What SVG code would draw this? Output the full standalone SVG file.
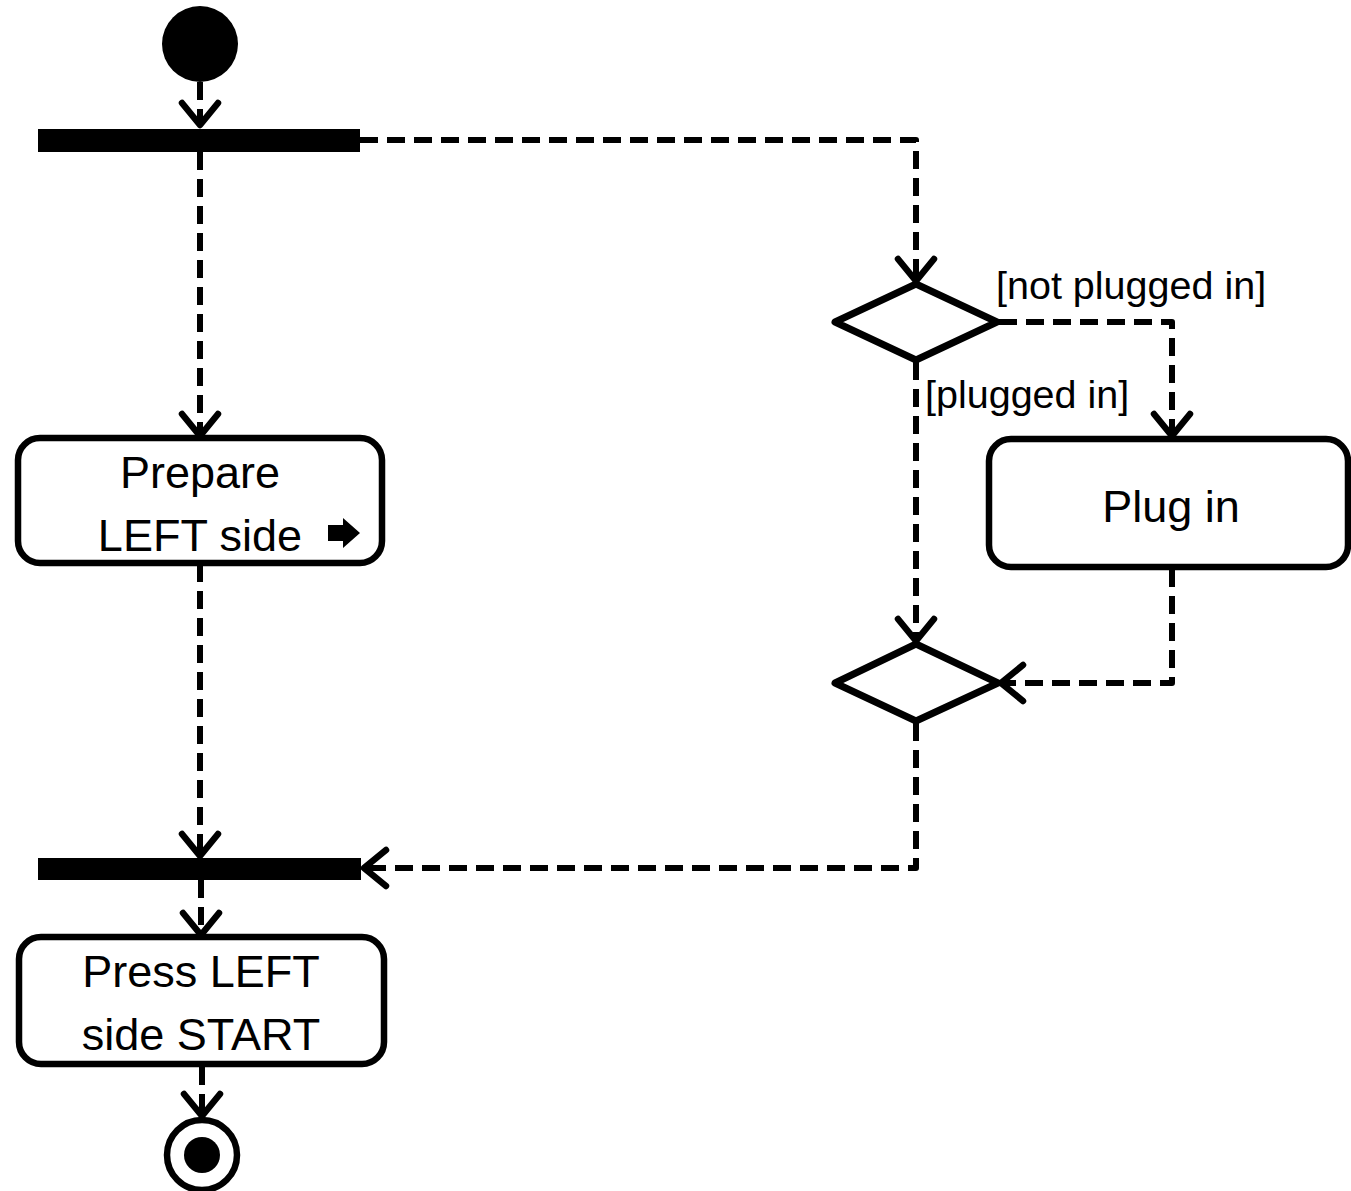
<svg xmlns="http://www.w3.org/2000/svg" width="1351" height="1191" viewBox="0 0 1351 1191">
  <style>
    .box { fill: #fff; stroke: #000; stroke-width: 6.5; }
    .dia { fill: #fff; stroke: #000; stroke-width: 7; stroke-linejoin: round; }
    .flow { fill: none; stroke: #000; stroke-width: 6; stroke-dasharray: 18 9; stroke-linejoin: round; }
    .lbl { font-family: "Liberation Sans", Arial, sans-serif; font-size: 45px; fill: #000; text-anchor: middle; }
    .guard { font-family: "Liberation Sans", Arial, sans-serif; font-size: 39.5px; fill: #000; }
  </style>
  <defs>
    <marker id="open" markerUnits="userSpaceOnUse" viewBox="-26 -22 30 44" markerWidth="30" markerHeight="44" refX="0" refY="0" orient="auto" overflow="visible">
      <path d="M-22,-18 L0,0 L-22,18" fill="none" stroke="#000" stroke-width="6.5" stroke-linecap="round" stroke-linejoin="round"/>
    </marker>
  </defs>

  <rect width="1351" height="1191" fill="#fff"/>

  <g id="connectors">
    <path class="flow" d="M200,82 V125" marker-end="url(#open)"/>
    <path class="flow" d="M200,152 V436" marker-end="url(#open)"/>
    <path class="flow" d="M200,564 V856" marker-end="url(#open)"/>
    <path class="flow" d="M201,880 V935" marker-end="url(#open)"/>
    <path class="flow" d="M202,1067 V1116" marker-end="url(#open)"/>
    <path class="flow" d="M360,140 H916 V281" marker-end="url(#open)"/>
    <path class="flow" d="M999,322 H1172 V436" marker-end="url(#open)"/>
    <path class="flow" d="M916,362 V641" marker-end="url(#open)"/>
    <path class="flow" d="M1172,569 V683 H1001" marker-end="url(#open)"/>
    <path class="flow" d="M916,723 V868 H364" marker-end="url(#open)"/>
  </g>

  <g id="start">
    <circle cx="200" cy="44" r="38" fill="#000"/>
  </g>

  <g id="fork">
    <rect x="38" y="129" width="322" height="23" fill="#000"/>
  </g>

  <g id="prepare-left">
    <rect class="box" x="18" y="438" width="364" height="125" rx="22"/>
    <text class="lbl" x="200" y="488">Prepare</text>
    <text class="lbl" x="200" y="551">LEFT side</text>
    <path d="M328,525 H343 V518 L360,533 L343,548 V541 H328 Z" fill="#000"/>
  </g>

  <g id="decision">
    <polygon class="dia" points="916,284 997,322 916,360 835,322"/>
  </g>
  <text class="guard" x="996" y="299">[not plugged in]</text>
  <text class="guard" x="925" y="408">[plugged in]</text>

  <g id="plug-in">
    <rect class="box" x="989" y="439" width="359" height="128" rx="22"/>
    <text class="lbl" x="1171" y="522">Plug in</text>
  </g>

  <g id="merge">
    <polygon class="dia" points="916,644 998,683 916,721 835,683"/>
  </g>

  <g id="join">
    <rect x="38" y="858" width="323" height="22" fill="#000"/>
  </g>

  <g id="press-left-start">
    <rect class="box" x="19" y="937" width="365" height="127" rx="22"/>
    <text class="lbl" x="201" y="987">Press LEFT</text>
    <text class="lbl" x="201" y="1050">side START</text>
  </g>

  <g id="end">
    <circle cx="202" cy="1155" r="35" fill="#fff" stroke="#000" stroke-width="6.5"/>
    <circle cx="202" cy="1155" r="18" fill="#000"/>
  </g>
</svg>
